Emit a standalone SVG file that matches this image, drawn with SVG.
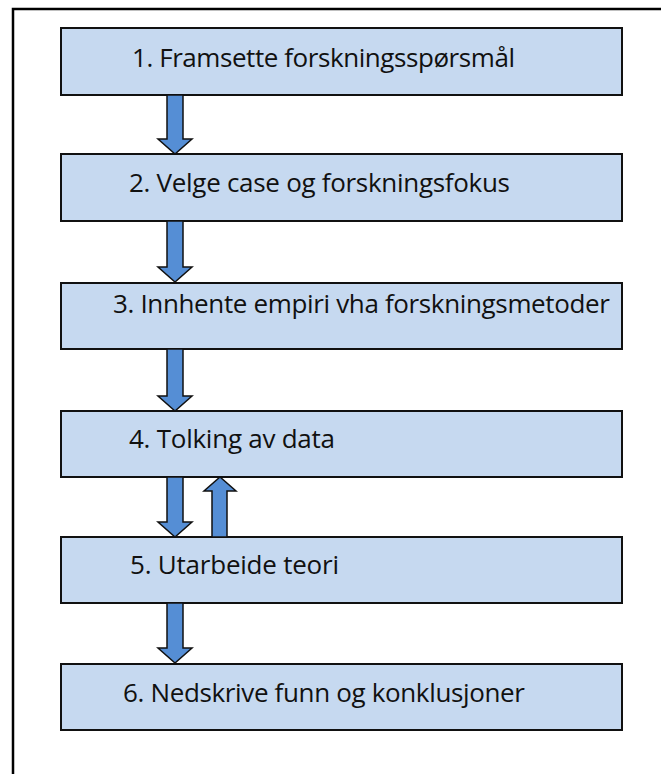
<svg xmlns="http://www.w3.org/2000/svg" width="661" height="774" viewBox="0 0 661 774">
  <style>
    .box { fill: #c6d9f0; stroke: #111; stroke-width: 2; }
    .lbl { font-family: "Open Sans", "Noto Sans", "Liberation Sans", sans-serif; font-size: 26px; fill: #111; }
    .arr { fill: #558ed5; stroke: #111; stroke-width: 1.5; stroke-linejoin: miter; }
  </style>
  <rect width="661" height="774" fill="#ffffff"/>
  <!-- outer frame -->
  <path d="M13 776 V9 H663" fill="none" stroke="#000" stroke-width="2.5"/>

  <g id="step1">
    <rect class="box" x="61" y="28" width="561" height="67"/>
    <text class="lbl" x="132" y="67" textLength="383">1. Framsette forskningsspørsmål</text>
  </g>
  <g id="step2">
    <rect class="box" x="61" y="154" width="561" height="67"/>
    <text class="lbl" x="129" y="192" textLength="381">2. Velge case og forskningsfokus</text>
  </g>
  <g id="step3">
    <rect class="box" x="61" y="283" width="561" height="66"/>
    <text class="lbl" x="113" y="313" textLength="497">3. Innhente empiri vha forskningsmetoder</text>
  </g>
  <g id="step4">
    <rect class="box" x="61" y="411" width="561" height="66"/>
    <text class="lbl" x="129" y="448" textLength="206">4. Tolking av data</text>
  </g>
  <g id="step5">
    <rect class="box" x="61" y="537" width="561" height="66"/>
    <text class="lbl" x="130" y="574" textLength="209">5. Utarbeide teori</text>
  </g>
  <g id="step6">
    <rect class="box" x="61" y="664" width="561" height="66"/>
    <text class="lbl" x="123" y="702" textLength="402">6. Nedskrive funn og konklusjoner</text>
  </g>

  <g id="connectors">
    <polygon class="arr" points="167,95 183,95 183,139 192,139 175,154 158,139 167,139"/>
    <polygon class="arr" points="167,221 183,221 183,267 192,267 175,282 158,267 167,267"/>
    <polygon class="arr" points="167,349 183,349 183,396 192,396 175,411 158,396 167,396"/>
    <polygon class="arr" points="167,477 183,477 183,522 192,522 175,537 158,522 167,522"/>
    <polygon class="arr" points="167,603 183,603 183,648 192,648 175,663 158,648 167,648"/>
    <polygon class="arr" points="212,537 227,537 227,491 236,491 220,477 204,491 212,491"/>
  </g>
</svg>
